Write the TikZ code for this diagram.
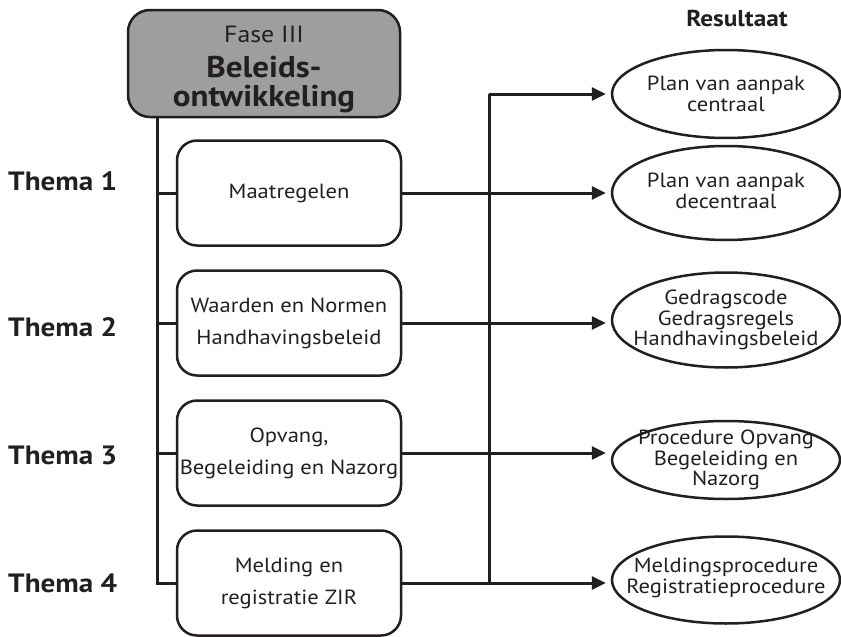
\documentclass[tikz,border=0pt]{standalone}
\usepackage{fontspec}
\setmainfont{PT Sans}[FakeStretch=1.1]
\usetikzlibrary{shapes.geometric,arrows.meta}
\definecolor{ink}{RGB}{35,31,32}
\definecolor{hdrfill}{RGB}{158,158,158}

\tikzset{
  hdr/.style={draw=ink, line width=2.5pt, fill=hdrfill, rounded corners=22pt,
    minimum width=272pt, minimum height=107pt, inner sep=0pt},
  hdrtext/.style={anchor=base, inner sep=0pt, text=ink},
  themebox/.style={draw=ink, line width=2.5pt, rounded corners=20pt,
    minimum width=224pt, minimum height=105pt, inner sep=0pt, align=center,
    text=ink, font=\fontsize{20.5}{32}\selectfont},
  res/.style={draw=ink, line width=2.5pt, ellipse, minimum width=228pt, inner sep=0pt},
  restext/.style={align=center, inner sep=0pt, text=ink,
    font=\fontsize{20.5}{20.5}\selectfont},
  lbl/.style={anchor=west, inner sep=0pt, text=ink,
    font=\fontsize{26.5}{26.5}\selectfont\bfseries},
  wire/.style={draw=ink, line width=3pt},
  arr/.style={wire, -{Triangle[length=14pt,width=13pt]}, shorten >=5pt},
}

\begin{document}
\begin{tikzpicture}[x=1pt, y=-1pt]
\useasboundingbox (0,0) rectangle (841,637);

% phase header
\node[hdr] (hdr) at (264,63.5) {};
\node[hdrtext, font=\fontsize{23.5}{23.5}\selectfont] (h1) at (264,42) {Fase III};
\node[hdrtext, font=\fontsize{30}{30}\selectfont\bfseries] (h2) at (264,77) {Beleids-};
\node[hdrtext, font=\fontsize{30}{30}\selectfont\bfseries] (h3) at (264,106) {ontwikkeling};

% column title
\node[inner sep=0pt, text=ink, font=\fontsize{23}{23}\selectfont\bfseries] (rtitle) at (737,18) {Resultaat};

% theme labels
\node[lbl] (l1) at (8,181) {Thema 1};
\node[lbl] (l2) at (8,327) {Thema 2};
\node[lbl] (l3) at (8,455) {Thema 3};
\node[lbl] (l4) at (8,583) {Thema 4};

% theme boxes
\node[themebox] (t1) at (289,193) {Maatregelen};
\node[themebox] (t2) at (289,323) {Waarden en Normen\\Handhavingsbeleid};
\node[themebox] (t3) at (289,453) {Opvang,\\Begeleiding en Nazorg};
\node[themebox] (t4) at (289,583) {Melding en\\registratie ZIR};

% result ellipses
\node[res, minimum height=88pt] (r1) at (726,94) {};
\node[res, minimum height=94pt] (r2) at (726,193) {};
\node[res, minimum height=95pt] (r3) at (726,320) {};
\node[res, minimum height=78pt] (r4) at (726,460) {};
\node[res, minimum height=87pt] (r5) at (726,580) {};

\node[restext] (x1) at (r1) {Plan van aanpak\\centraal};
\node[restext] (x2) at ([yshift=2pt]r2.center) {Plan van aanpak\\decentraal};
\node[restext] (x3) at (r3) {Gedragscode\\Gedragsregels\\Handhavingsbeleid};
\node[restext] (x4) at (r4) {Procedure Opvang\\Begeleiding en\\Nazorg};
\node[restext] (x5) at ([yshift=2pt]r5.center) {Meldingsprocedure\\Registratieprocedure};

% trunk lines
\coordinate (trunkL) at (157,0);
\coordinate (trunkR) at (489,0);

\draw[wire] (hdr.south -| trunkL) -- (t4.west -| trunkL) -- (t4.west);
\foreach \i in {1,2,3} \draw[wire] (t\i.west -| trunkL) -- (t\i.west);

\draw[wire] (r1.west -| trunkR) -- (t4.east -| trunkR);
\draw[arr] (r1.west -| trunkR) -- (r1.west);
\draw[arr] (t1.east) -- (t1.east -| r2.west);
\draw[arr] (t2.east) -- (t2.east -| r3.west);
\draw[arr] (t3.east) -- (t3.east -| r4.west);
\draw[arr] (t4.east) -- (t4.east -| r5.west);
\end{tikzpicture}
\end{document}
